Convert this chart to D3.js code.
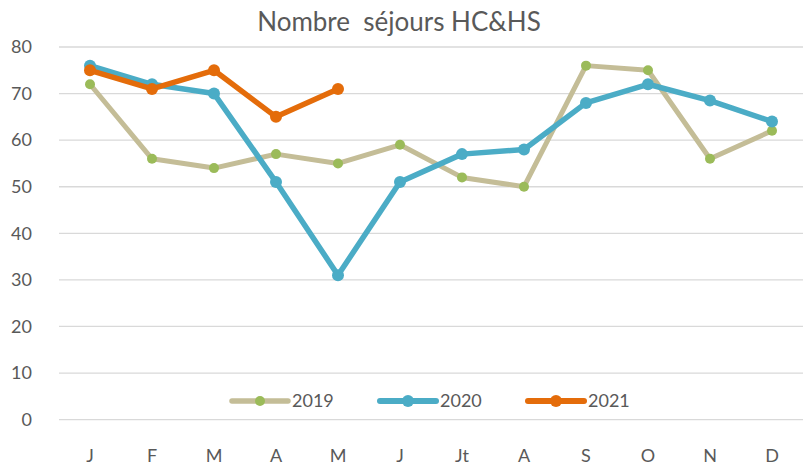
<!DOCTYPE html>
<html>
<head>
<meta charset="utf-8">
<script src="https://cdn.jsdelivr.net/npm/d3@7"></script>
<style>
  body { margin: 0; background: #fff; }
  svg { font-family: Lato, "Open Sans", sans-serif; }
</style>
</head>
<body>
<div id="chart"></div>
<script>
// Month labels and series values
const months = ['J', 'F', 'M', 'A', 'M', 'J', 'Jt', 'A', 'S', 'O', 'N', 'D'];
const values2019 = [72, 56, 54, 57, 55, 59, 52, 50, 76, 75, 56, 62];
const values2020 = [76, 72, 70, 51, 31, 51, 57, 58, 68, 72, 68.5, 64];
const values2021 = [75, 71, 75, 65, 71];
const yTicks = [0, 10, 20, 30, 40, 50, 60, 70, 80];

const series = [
    { name: '2019', values: values2019, line: '#C4BD97', dot: '#9BBB59', width: 5, r: 5 },
    { name: '2020', values: values2020, line: '#4BACC6', dot: '#4BACC6', width: 5.5, r: 6 },
    { name: '2021', values: values2021, line: '#E46C0A', dot: '#E46C0A', width: 5.5, r: 6 }
];

const width = 807, height = 469;
const margin = { top: 47, right: 4, bottom: 49, left: 59 };

const svg = d3.select('#chart').append('svg')
    .attr('width', width)
    .attr('height', height);

const x = d3.scaleBand()
    .domain(d3.range(months.length))
    .range([margin.left, width - margin.right]);

const y = d3.scaleLinear()
    .domain([0, 80])
    .range([height - margin.bottom - 0.4, margin.top]);

// Gridlines
svg.append('g')
    .selectAll('line')
    .data(yTicks)
    .enter()
    .append('line')
    .attr('x1', margin.left)
    .attr('x2', width - margin.right)
    .attr('y1', d => y(d))
    .attr('y2', d => y(d))
    .attr('stroke', '#D9D9D9')
    .attr('stroke-width', 1.3);

// Y labels
svg.append('g')
    .selectAll('text')
    .data(yTicks)
    .enter()
    .append('text')
    .attr('x', 32)
    .attr('y', d => y(d))
    .attr('dy', '0.35em')
    .attr('text-anchor', 'end')
    .attr('fill', '#595959')
    .style('font-size', '18px')
    .text(d => d);

// X labels
svg.append('g')
    .selectAll('text')
    .data(months)
    .enter()
    .append('text')
    .attr('x', (d, i) => x(i) + x.bandwidth() / 2)
    .attr('y', 456)
    .attr('dy', '0.35em')
    .attr('text-anchor', 'middle')
    .attr('fill', '#595959')
    .style('font-size', '18px')
    .text(d => d);

const line = d3.line()
    .x((d, i) => x(i) + x.bandwidth() / 2)
    .y(d => y(d));

series.forEach(s => {
    const g = svg.append('g');
    g.append('path')
        .datum(s.values)
        .attr('fill', 'none')
        .attr('stroke', s.line)
        .attr('stroke-width', s.width)
        .attr('stroke-linejoin', 'round')
        .attr('d', line);

    g.selectAll('circle')
        .data(s.values)
        .enter()
        .append('circle')
        .attr('cx', (d, i) => x(i) + x.bandwidth() / 2)
        .attr('cy', d => y(d))
        .attr('r', s.r)
        .attr('fill', s.dot);
});

// Title
svg.append('text')
    .attr('x', 399)
    .attr('y', 22)
    .attr('dy', '0.35em')
    .attr('text-anchor', 'middle')
    .attr('fill', '#595959')
    .style('font-size', '26px')
    .style('white-space', 'pre')
    .attr('xml:space', 'preserve')
    .text('Nombre  séjours HC&HS');

// Legend
const legendX = [232, 380, 528];
const legend = svg.append('g');
series.forEach((s, i) => {
    const lx = legendX[i];
    const ly = 401;
    legend.append('line')
        .attr('x1', lx)
        .attr('x2', lx + 56)
        .attr('y1', ly)
        .attr('y2', ly)
        .attr('stroke', s.line)
        .attr('stroke-width', s.width + 0.5)
        .attr('stroke-linecap', 'round');
    legend.append('circle')
        .attr('cx', lx + 28)
        .attr('cy', ly)
        .attr('r', s.r)
        .attr('fill', s.dot);
    legend.append('text')
        .attr('x', lx + 60)
        .attr('y', ly)
        .attr('dy', '0.35em')
        .attr('fill', '#595959')
        .style('font-size', '18px')
        .text(s.name);
});
</script>
</body>
</html>
